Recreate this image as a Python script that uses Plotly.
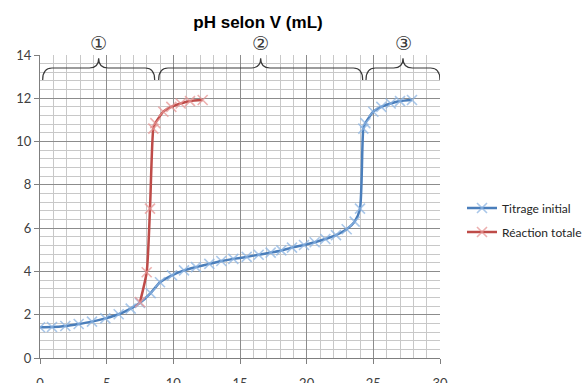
import plotly.graph_objects as go

# ---- data ----
v_initial = [0.0, 0.9, 1.9, 2.9, 3.9, 4.9, 5.9, 6.8, 7.5, 8.3, 9.0, 9.9, 10.8, 11.7,
             12.7, 13.6, 14.5, 15.5, 16.4, 17.3, 18.1, 18.9, 19.8, 20.6, 21.4, 22.2,
             23.0, 23.6, 24.0, 24.25, 24.4, 25.0, 25.6, 26.3, 27.0, 27.9]
ph_initial = [1.42, 1.43, 1.48, 1.57, 1.68, 1.83, 2.02, 2.28, 2.55, 3.0, 3.5, 3.82, 4.05, 4.2,
              4.35, 4.48, 4.58, 4.67, 4.77, 4.87, 4.97, 5.1, 5.22, 5.35, 5.5, 5.68,
              5.95, 6.3, 6.9, 10.6, 10.85, 11.38, 11.6, 11.76, 11.87, 11.92]

v_totale = [7.5, 8.0, 8.25, 8.5, 8.65, 9.25, 9.85, 10.55, 11.25, 12.2]
ph_totale = [2.58, 3.96, 6.9, 10.6, 10.85, 11.38, 11.6, 11.76, 11.87, 11.92]

brace_spans = [(0.2, 8.6), (8.9, 24.2), (24.45, 30.0)]
brace_labels = ["①", "②", "③"]

x_ticks = [0, 5, 10, 15, 20, 25, 30]
y_ticks = [0, 2, 4, 6, 8, 10, 12, 14]

BLUE = "#4A7EBB"
BLUE_M = "rgba(140,180,225,0.75)"
RED = "#BE4B48"
RED_M = "rgba(230,150,148,0.75)"
FONT = "Lato"

fig = go.Figure()
fig.add_trace(go.Scatter(
    x=v_initial, y=ph_initial, name="Titrage initial", mode="lines+markers",
    line=dict(color=BLUE, width=2.5, shape="spline", smoothing=0.6),
    marker=dict(symbol="x-thin", size=10, line=dict(color=BLUE_M, width=1.6)),
    legend="legend",
))
fig.add_trace(go.Scatter(
    x=v_totale, y=ph_totale, name="Réaction totale", mode="lines+markers",
    line=dict(color=RED, width=2.5, shape="spline", smoothing=0.6),
    marker=dict(symbol="x-thin", size=10, line=dict(color=RED_M, width=1.6)),
    legend="legend2",
))

# braces + circled labels
y_tip, y_bar, y_peak, rx = 12.85, 13.4, 13.85, 0.7
for (x0, x1), lab in zip(brace_spans, brace_labels):
    xm = (x0 + x1) / 2
    path = (f"M {x0},{y_tip} Q {x0},{y_bar} {x0+rx},{y_bar} L {xm-rx},{y_bar} "
            f"Q {xm},{y_bar} {xm},{y_peak} Q {xm},{y_bar} {xm+rx},{y_bar} "
            f"L {x1-rx},{y_bar} Q {x1},{y_bar} {x1},{y_tip}")
    fig.add_shape(type="path", path=path, xref="x", yref="y",
                  line=dict(color="#3A3A3A", width=1.2))
    fig.add_annotation(x=xm, y=1 + 12 / 303, xref="x", yref="paper", text=lab,
                       showarrow=False, yanchor="middle",
                       font=dict(family="DejaVu Sans", size=19, color="#3A3A3A"))

fig.update_layout(
    width=587, height=383,
    margin=dict(l=40, r=147, t=55, b=25),
    paper_bgcolor="white", plot_bgcolor="white",
    title=dict(text="<b>pH selon V (mL)</b>", x=258/587, xanchor="center",
               y=1-22/383, yanchor="middle",
               font=dict(family="Liberation Sans", size=17, color="#000000")),
    font=dict(family=FONT, size=13, color="#404040"),
    legend=dict(xref="container", yref="container", x=462/587, y=1-208/383,
                xanchor="left", yanchor="middle",
                font=dict(family=FONT, size=12, color="#262626"), bgcolor="rgba(0,0,0,0)"),
    legend2=dict(xref="container", yref="container", x=462/587, y=1-232/383,
                 xanchor="left", yanchor="middle",
                 font=dict(family=FONT, size=12, color="#262626"), bgcolor="rgba(0,0,0,0)"),
    showlegend=True,
)
fig.update_xaxes(
    range=[0, 30], tickvals=x_ticks, ticktext=[str(t) for t in x_ticks],
    showgrid=True, gridcolor="#8C8C8C", gridwidth=1,
    minor=dict(dtick=1, tick0=0, showgrid=True, gridcolor="#C8C8C8", gridwidth=1),
    showline=True, linecolor="#7F7F7F", linewidth=1,
    ticks="outside", ticklen=5, tickcolor="#7F7F7F", ticklabelstandoff=8,
    tickfont=dict(family=FONT, size=13, color="#404040"),
    zeroline=False, fixedrange=True, automargin=False,
)
fig.update_yaxes(
    range=[0, 14], tickvals=y_ticks, ticktext=[str(t) for t in y_ticks],
    showgrid=True, gridcolor="#8C8C8C", gridwidth=1,
    minor=dict(dtick=0.4, tick0=0, showgrid=True, gridcolor="#C8C8C8", gridwidth=1),
    showline=True, linecolor="#7F7F7F", linewidth=1,
    ticks="outside", ticklen=5, tickcolor="#7F7F7F",
    tickfont=dict(family=FONT, size=13, color="#404040"),
    zeroline=False, fixedrange=True, automargin=False,
)

fig.write_html(
    "out.html",
    config={"displayModeBar": False},
    post_script="document.body.style.margin='0';document.body.style.overflow='hidden';",
)
